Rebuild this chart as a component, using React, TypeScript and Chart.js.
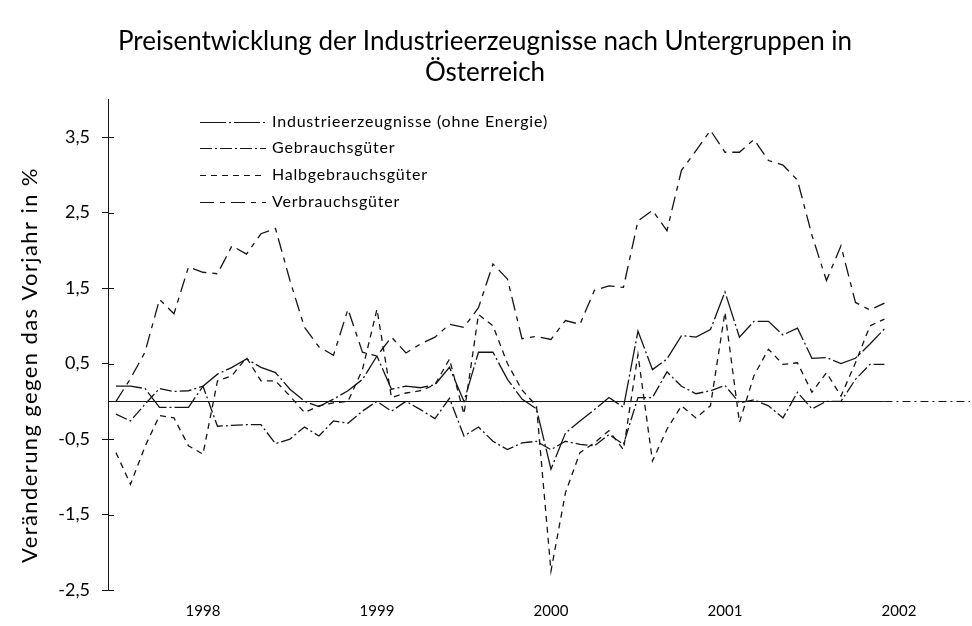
import React, { useEffect, useRef } from "react";
import { Chart, registerables } from "chart.js";

Chart.register(...registerables);

const chartTitle = ["Preisentwicklung der Industrieerzeugnisse nach Untergruppen in", "Österreich"];
const yAxisTitle = "Veränderung gegen das Vorjahr in %";
const yearLabels = ["1998", "1999", "2000", "2001", "2002"];
const yTicks = [-2.5, -1.5, -0.5, 0.5, 1.5, 2.5, 3.5];
const seriesNames = [
  "Industrieerzeugnisse (ohne Energie)",
  "Gebrauchsgüter",
  "Halbgebrauchsgüter",
  "Verbrauchsgüter",
];

// monthly values, Jan 1998 .. Jun 2002
const industrie = [
  0.2, 0.2, 0.17, -0.08, -0.08, -0.08, 0.2, 0.36, 0.45, 0.56, 0.45, 0.38,
  0.16, 0.0, -0.07, 0.03, 0.14, 0.29, 0.6, 0.16, 0.2, 0.18, 0.22, 0.45,
  0.0, 0.65, 0.65, 0.29, 0.03, -0.1, -0.9, -0.42, -0.26, -0.11, 0.05, -0.08,
  0.93, 0.42, 0.56, 0.87, 0.85, 0.95, 1.45, 0.85, 1.06, 1.06, 0.88, 0.97,
  0.57, 0.58, 0.5, 0.57, 0.76, 0.96,
];
const gebrauch = [
  -0.17, -0.26, -0.04, 0.17, 0.13, 0.14, 0.2, -0.33, -0.32, -0.31, -0.31, -0.56,
  -0.5, -0.34, -0.46, -0.26, -0.29, -0.13, 0.0, -0.13, 0.0, -0.11, -0.23, 0.04,
  -0.46, -0.34, -0.53, -0.64, -0.55, -0.53, -0.64, -0.53, -0.57, -0.59, -0.44, -0.57,
  0.05, 0.05, 0.39, 0.2, 0.1, 0.14, 0.21, -0.02, 0.02, -0.06, -0.22, 0.12,
  -0.1, 0.0, 0.0, 0.29, 0.49, 0.49,
];
const halbgebrauch = [
  -0.68, -1.1, -0.6, -0.19, -0.22, -0.59, -0.7, 0.27, 0.34, 0.58, 0.27, 0.27,
  0.07, -0.15, -0.06, -0.02, 0.0, 0.42, 1.22, 0.05, 0.11, 0.14, 0.22, 0.56,
  -0.17, 1.15, 1.0, 0.5, 0.15, -0.06, -2.25, -1.21, -0.68, -0.55, -0.39, -0.64,
  0.62, -0.79, -0.37, -0.06, -0.22, -0.06, 1.18, -0.28, 0.34, 0.69, 0.49, 0.51,
  0.12, 0.38, 0.07, 0.51, 1.0, 1.09,
];
const verbrauch = [
  0.0, 0.3, 0.65, 1.35, 1.16, 1.78, 1.71, 1.69, 2.06, 1.95, 2.22, 2.29,
  1.6, 0.98, 0.72, 0.61, 1.22, 0.65, 0.6, 0.85, 0.64, 0.76, 0.85, 1.02,
  0.98, 1.24, 1.82, 1.62, 0.83, 0.86, 0.82, 1.07, 1.02, 1.47, 1.53, 1.51,
  2.39, 2.53, 2.26, 3.06, 3.32, 3.59, 3.3, 3.3, 3.47, 3.19, 3.13, 2.93,
  2.2, 1.6, 2.06, 1.31, 1.21, 1.3,
];

const FONT = "Lato, 'DejaVu Sans', sans-serif";
const INK = "#151515";
const dashes = [[26, 3, 2, 3], [12, 3, 2, 3], [6, 5], [14, 6, 5, 6]];

const toPoints = (arr: number[]) => arr.map((v, i) => ({ x: i, y: v }));

const decorPlugin = {
  id: "decor",
  beforeDatasetsDraw(chart: any) {
    const { ctx, chartArea, scales } = chart;
    const y0 = Math.round(scales.y.getPixelForValue(0)) + 0.5;
    const xEnd = scales.x.getPixelForValue(industrie.length - 1);
    ctx.save();
    ctx.strokeStyle = INK;
    ctx.lineWidth = 1;
    ctx.beginPath();
    ctx.moveTo(chartArea.left, y0);
    ctx.lineTo(xEnd, y0);
    ctx.stroke();
    ctx.setLineDash([8, 4, 2, 4]);
    ctx.beginPath();
    ctx.moveTo(xEnd, y0);
    ctx.lineTo(chartArea.right, y0);
    ctx.stroke();
    ctx.restore();
  },
  afterDraw(chart: any) {
    const { ctx, chartArea, scales } = chart;
    ctx.save();
    ctx.strokeStyle = INK;
    ctx.lineWidth = 1;
    yTicks.forEach((t) => {
      const py = Math.round(scales.y.getPixelForValue(t)) + 0.5;
      ctx.beginPath();
      ctx.moveTo(chartArea.left, py);
      ctx.lineTo(chartArea.left + 6, py);
      ctx.stroke();
    });
    ctx.fillStyle = "#000";
    ctx.font = `22px ${FONT}`;
    (ctx as any).letterSpacing = "1.4px";
    ctx.textAlign = "center";
    ctx.textBaseline = "middle";
    ctx.translate(30, 365);
    ctx.rotate(-Math.PI / 2);
    ctx.fillText(yAxisTitle, 0, 0);
    ctx.restore();

    ctx.save();
    const rows = [122, 148, 175, 202];
    chart.data.datasets.forEach((ds: any, i: number) => {
      const ry = rows[i] + 0.5;
      ctx.strokeStyle = INK;
      ctx.lineWidth = 1.2;
      ctx.setLineDash(ds.borderDash || []);
      ctx.beginPath();
      ctx.moveTo(200, ry);
      ctx.lineTo(266, ry);
      ctx.stroke();
      ctx.setLineDash([]);
      ctx.fillStyle = "#000";
      ctx.font = `16px ${FONT}`;
      (ctx as any).letterSpacing = "0.8px";
      ctx.textAlign = "left";
      ctx.textBaseline = "middle";
      ctx.fillText(ds.label, 272, rows[i]);
    });
    ctx.restore();
  },
};

export default function App() {
  const ref = useRef<HTMLCanvasElement | null>(null);
  useEffect(() => {
    document.body.style.margin = "0";
    const canvas = ref.current!;
    const series = [industrie, gebrauch, halbgebrauch, verbrauch];
    const chart = new Chart(canvas, {
      type: "line",
      data: {
        datasets: series.map((s, i) => ({
          label: seriesNames[i],
          data: toPoints(s),
          borderColor: INK,
          borderWidth: 1.3,
          borderDash: dashes[i],
          pointRadius: 0,
          fill: false,
          tension: 0,
        })),
      },
      options: {
        animation: false,
        responsive: false,
        devicePixelRatio: 1,
        layout: { padding: { top: 0, right: 2, left: 0, bottom: 0 } },
        plugins: {
          legend: { display: false },
          tooltip: { enabled: false },
          title: {
            display: true,
            text: chartTitle,
            color: "#000",
            font: { family: FONT, size: 26, weight: "normal", lineHeight: 1.2 },
            padding: { top: 26, bottom: 11 },
          },
        },
        scales: {
          x: {
            type: "linear",
            min: -0.55,
            max: 58.9,
            afterBuildTicks: (s: any) => {
              s.ticks = yearLabels.map((_, k) => ({ value: 12 * k + 6 }));
            },
            afterFit: (s: any) => {
              s.height = 36;
            },
            ticks: {
              autoSkip: false,
              maxRotation: 0,
              padding: 4,
              color: "#000",
              font: { family: FONT, size: 15 },
              callback: (_v: any, idx: number) => yearLabels[idx],
            },
            grid: { display: false },
            border: { display: false },
          },
          y: {
            type: "linear",
            min: -2.5,
            max: 4.0,
            afterBuildTicks: (s: any) => {
              s.ticks = yTicks.map((v) => ({ value: v }));
            },
            afterFit: (s: any) => {
              s.width = 108;
            },
            ticks: {
              padding: 12,
              color: "#000",
              font: { family: FONT, size: 18 },
              callback: (v: any) => String(v).replace(".", ","),
            },
            grid: { drawOnChartArea: false, tickLength: 6, color: INK },
            border: { color: INK, width: 1 },
          },
        },
      },
      plugins: [decorPlugin],
    });
    return () => chart.destroy();
  }, []);
  return (
    <div style={{ width: 972, height: 626, background: "#fff" }}>
      <canvas ref={ref} width={972} height={626} />
    </div>
  );
}
